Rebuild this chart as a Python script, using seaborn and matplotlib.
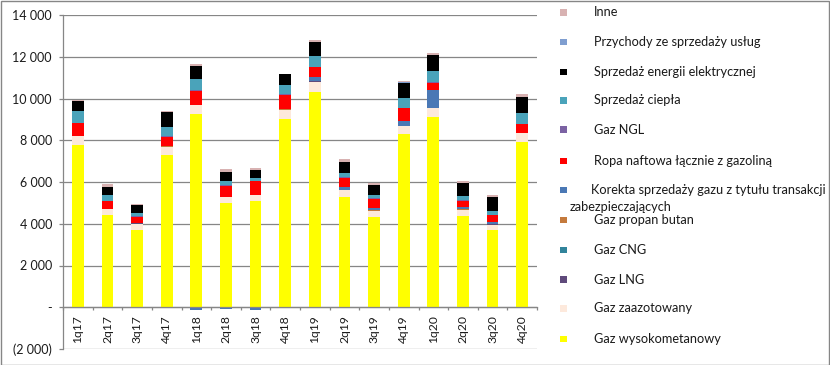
import numpy as np
import matplotlib
matplotlib.use("Agg")
import matplotlib.pyplot as plt
import seaborn as sns
from matplotlib.patches import Rectangle
from matplotlib.ticker import FuncFormatter, FixedLocator

quarters = ["1q17", "2q17", "3q17", "4q17", "1q18", "2q18", "3q18", "4q18",
            "1q19", "2q19", "3q19", "4q19", "1q20", "2q20", "3q20", "4q20"]

gaz_wysokometanowy = [7757, 4415, 3715, 7279, 9236, 4973, 5084, 8998,
                      10334, 5274, 4320, 8282, 9093, 4368, 3699, 7900]
gaz_zaazotowany = [429, 287, 287, 398, 430, 301, 286, 429,
                   477, 335, 286, 382, 430, 286, 239, 430]
gaz_lng = [0, 25, 20, 0, 30, 20, 30, 20, 30, 0, 0, 0, 30, 0, 30, 30]
gaz_cng = [0, 0, 0, 0, 0, 0, 0, 0, 0, 0, 0, 0, 0, 0, 0, 0]
gaz_propan_butan = [40, 0, 0, 40, 0, 0, 0, 60, 0, 30, 30, 0, 0, 30, 0, 0]
korekta = [0, 0, 0, 0, -150, -100, -110, 0, 207, 110, 110, 240, 870, 130, 130, 0]
ropa_naftowa = [581, 371, 314, 438, 686, 520, 653, 684,
                446, 460, 460, 636, 334, 286, 302, 414]
gaz_ngl = [20, 15, 15, 30, 15, 20, 15, 15, 15, 15, 15, 15, 15, 30, 15, 15]
sprzedaz_ciepla = [553, 257, 160, 431, 558, 204, 113, 462,
                   542, 225, 175, 447, 558, 220, 176, 526]
energia_elektryczna = [477, 382, 382, 716, 620, 430, 382, 509,
                       668, 525, 477, 764, 740, 620, 668, 764]
uslugi = [5, 5, 5, 5, 5, 5, 5, 0, 5, 5, 5, 5, 5, 5, 5, 5]
inne = [90, 138, 60, 48, 95, 143, 96, 0, 95, 143, 95, 48, 120, 95, 95, 143]

# bottom-up stacking order (legend shows the reverse)
layers = [
    ("Gaz wysokometanowy", gaz_wysokometanowy, "#FFFF00"),
    ("Gaz zaazotowany", gaz_zaazotowany, "#FDE9DC"),
    ("Gaz LNG", gaz_lng, "#5F4A7B"),
    ("Gaz CNG", gaz_cng, "#31849B"),
    ("Gaz propan butan", gaz_propan_butan, "#C47A3C"),
    ("Korekta sprzedaży gazu z tytułu transakcji zabezpieczających", korekta, "#4A78B5"),
    ("Ropa naftowa łącznie z gazoliną", ropa_naftowa, "#FF0000"),
    ("Gaz NGL", gaz_ngl, "#7B62A3"),
    ("Sprzedaż ciepła", sprzedaz_ciepla, "#4AA3BA"),
    ("Sprzedaż energii elektrycznej", energia_elektryczna, "#000000"),
    ("Przychody ze sprzedaży usług", uslugi, "#7F9ED0"),
    ("Inne", inne, "#D8B2B2"),
]

sns.set_theme(style="white")
plt.rcParams["font.family"] = ["Lato", "DejaVu Sans"]

W, H = 830, 365
fig = plt.figure(figsize=(W / 100, H / 100), dpi=100)
fig.patch.set_facecolor("white")
ax = fig.add_axes([63 / W, 1 - 349 / H, (537 - 63) / W, (349 - 15) / H])

gray = "#868686"
txt = "#1a1a1a"
pos = np.zeros(len(quarters))
neg = np.zeros(len(quarters))
for label, vals, color in layers:
    v = np.array(vals, dtype=float)
    bottom = np.where(v >= 0, pos, neg)
    sns.barplot(x=quarters, y=v, order=quarters, color=color, saturation=1,
                width=0.4, bottom=bottom, errorbar=None, ax=ax,
                linewidth=0, edgecolor="none")
    pos += np.where(v > 0, v, 0)
    neg += np.where(v < 0, v, 0)

ax.set_xlim(-0.5, len(quarters) - 0.5)
ax.set_ylim(-2000, 14000)
ax.set_xlabel("")
ax.set_ylabel("")

def fmt(v, _):
    if v == 0:
        return "-"
    s = f"{int(abs(v)):,}".replace(",", " ")
    return f"({s})" if v < 0 else s

ax.set_yticks(np.arange(-2000, 14001, 2000))
ax.yaxis.set_major_formatter(FuncFormatter(fmt))
ax.yaxis.grid(True, color=gray, linewidth=0.9)
ax.set_axisbelow(True)

for s in ["top", "right"]:
    ax.spines[s].set_visible(False)
ax.spines["left"].set_color(gray)
ax.spines["left"].set_linewidth(0.9)
ax.spines["bottom"].set_position(("data", 0))
ax.spines["bottom"].set_color(gray)
ax.spines["bottom"].set_linewidth(0.9)

ax.set_xticks(range(len(quarters)))
ax.set_xticklabels(quarters, rotation=90, va="top", ha="center")
ax.xaxis.set_minor_locator(FixedLocator(np.arange(-0.5, len(quarters), 1.0)))
ax.tick_params(axis="x", which="major", length=0, pad=5.5, labelsize=8.7, labelcolor=txt)
ax.tick_params(axis="x", which="minor", length=2.5, width=0.9, color=gray, direction="out", bottom=True)
ax.tick_params(axis="y", which="major", length=3, width=0.9, color=gray, direction="out",
               left=True, pad=5, labelsize=9, labelcolor=txt)

# manual legend (right side)
leg_y = {
    "Inne": 12.3, "Przychody ze sprzedaży usług": 42, "Sprzedaż energii elektrycznej": 72,
    "Sprzedaż ciepła": 100.5, "Gaz NGL": 129.5, "Ropa naftowa łącznie z gazoliną": 161,
    "Korekta sprzedaży gazu z tytułu transakcji zabezpieczających": 190,
    "Gaz propan butan": 220, "Gaz CNG": 250, "Gaz LNG": 279.5,
    "Gaz zaazotowany": 308.5, "Gaz wysokometanowy": 339,
}
fs = 9.2
for label, vals, color in layers:
    yc = leg_y[label]
    fig.patches.append(Rectangle((560 / W, 1 - (yc + 3.3) / H), 7 / W, 6.6 / H,
                                 transform=fig.transFigure, facecolor=color,
                                 edgecolor="none"))
    if label.startswith("Korekta"):
        fig.text(591 / W, 1 - yc / H, "Korekta sprzedaży gazu z tytułu transakcji",
                 va="center", ha="left", fontsize=fs, color=txt)
        fig.text(570 / W, 1 - 207 / H, "zabezpieczających",
                 va="center", ha="left", fontsize=fs, color=txt)
    else:
        fig.text(594 / W, 1 - yc / H, label, va="center", ha="left",
                 fontsize=fs, color=txt)

# outer border
fig.patches.append(Rectangle((0.5 / W, 0.5 / H), 1 - 1.5 / W, 1 - 1.5 / H,
                             transform=fig.transFigure, facecolor="none",
                             edgecolor=gray, linewidth=1.0))

fig.savefig("out.png", dpi=100)
